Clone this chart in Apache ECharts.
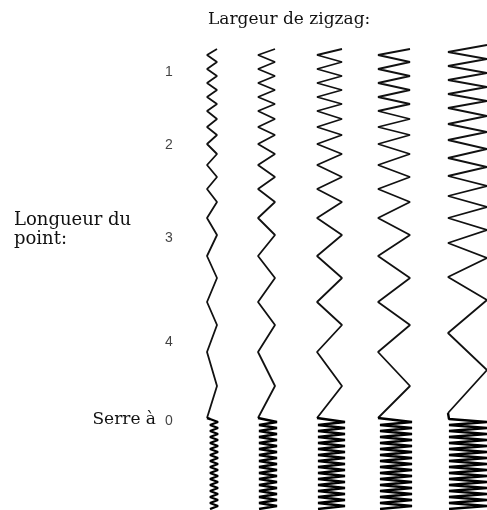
<!DOCTYPE html>
<html>
<head>
<meta charset="utf-8">
<script src="https://cdn.jsdelivr.net/npm/echarts@6/dist/echarts.min.js"></script>
<style>
  html, body { margin: 0; padding: 0; background: #fff; }
  #main { width: 487px; height: 510px; }
</style>
</head>
<body>
<div id="main"></div>
<script>
// stitch turn points (down the sample), columns 1-4 share them, column 5 has its own
var stitchY = [49, 55, 62, 69, 76, 83, 90, 97, 104, 111, 119, 127, 135, 144, 154, 165, 177, 189, 202, 218, 235, 256, 278, 302, 325, 352, 386, 418];
var stitchY5 = [45, 52, 59, 66, 73, 80, 87, 94, 101, 108, 116, 124, 132, 140, 149, 158, 167, 176, 186, 196, 207, 218, 230, 243, 258, 277, 300, 333, 370, 413];
// satin (length 0) turn points
var satinY = [419, 422, 425, 428, 431, 434, 437, 440, 443, 446, 449, 452, 455, 458, 461, 464, 467, 470, 473, 476, 479, 482, 485, 488, 491, 494, 497, 500, 503, 506, 509];
// zigzag width: left / right edge of each column
var zigLeft = [207, 258, 317, 378, 448];
var zigRight = [217, 275, 342, 410, 487];
var satinLeft = [210, 259, 318, 380, 449];
var satinRight = [218, 277, 345, 412, 487];
// stitch length scale
var lengthLabels = ['1', '2', '3', '4', '0'];
var lengthY = [72, 145, 238, 342, 421];

var chart = echarts.init(document.getElementById('main'));

var series = [];
for (var c = 0; c < 5; c++) {
    var ys = c === 4 ? stitchY5 : stitchY;
    var pts = ys.map(function (y, i) {
        return [i % 2 === 0 ? zigRight[c] : zigLeft[c], y];
    });
    series.push({
        type: 'line',
        data: pts,
        symbol: 'none',
        lineStyle: { color: '#111', width: 1.8 },
        silent: true
    });
    var sat = satinY.map(function (y, i) {
        return [i % 2 === 0 ? satinLeft[c] : satinRight[c], y];
    });
    sat.unshift(pts[pts.length - 1]);
    series.push({
        type: 'line',
        data: sat,
        symbol: 'none',
        lineStyle: { color: '#000', width: 2.4 },
        silent: true
    });
}

series.push({
    type: 'scatter',
    symbolSize: 0,
    data: lengthY.map(function (y, i) { return [169, y, lengthLabels[i]]; }),
    label: {
        show: true,
        position: 'inside',
        formatter: function (p) { return p.data[2]; },
        color: '#111',
        fontFamily: 'Liberation Sans',
        fontSize: 14
    },
    silent: true
});

var option = {
    animation: false,
    backgroundColor: '#fff',
    grid: { left: 0, right: 0, top: 0, bottom: 0 },
    xAxis: { type: 'value', min: 0, max: 487, show: false },
    yAxis: { type: 'value', min: 0, max: 510, inverse: true, show: false },
    graphic: [
        {
            type: 'text', left: 208, top: 11,
            style: { text: 'Largeur de zigzag:', font: '17px "DejaVu Serif"', fill: '#111' }
        },
        {
            type: 'text', left: 14, top: 211,
            style: { text: 'Longueur du\npoint:', font: '18px "DejaVu Serif"', lineHeight: 19, fill: '#111' }
        },
        {
            type: 'text', right: 331, top: 411,
            style: { text: 'Serre à', font: '17px "DejaVu Serif"', fill: '#111' }
        }
    ],
    series: series
};
chart.setOption(option);
</script>
</body>
</html>
